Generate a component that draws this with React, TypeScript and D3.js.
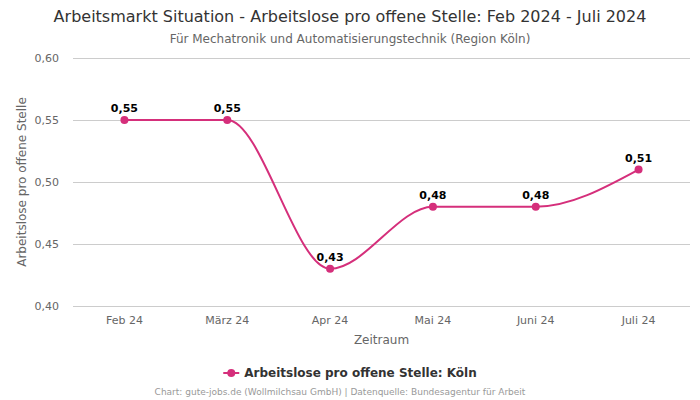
import * as d3 from "d3";
import { useEffect, useRef } from "react";

const categories = ["Feb 24", "März 24", "Apr 24", "Mai 24", "Juni 24", "Juli 24"];
const values = [0.55, 0.55, 0.43, 0.48, 0.48, 0.51];
const yTicks = [0.4, 0.45, 0.5, 0.55, 0.6];

const seriesName = "Arbeitslose pro offene Stelle: Köln";
const color = "#d52f7b";
const font = "'DejaVu Sans', sans-serif";

const fmt = (v: number) => v.toFixed(2).replace(".", ",");

const App = () => {
  const ref = useRef<SVGSVGElement>(null);

  useEffect(() => {
    const svg = d3.select(ref.current);
    svg.selectAll("*").remove();
    const width = 700;
    const height = 400;
    const margin = { top: 58, right: 10, bottom: 94, left: 73 };

    svg.attr("width", width).attr("height", height).style("font-family", font);
    svg.append("rect").attr("width", width).attr("height", height).attr("fill", "#fff");

    const x = d3
      .scalePoint()
      .domain(categories)
      .range([margin.left, width - margin.right])
      .padding(0.5);

    const y = d3
      .scaleLinear()
      .domain([0.4, 0.6])
      .range([height - margin.bottom, margin.top]);

    // Titles
    svg
      .append("text")
      .attr("x", width / 2)
      .attr("y", 22)
      .attr("text-anchor", "middle")
      .attr("fill", "#333")
      .style("font-size", "16px")
      .text("Arbeitsmarkt Situation - Arbeitslose pro offene Stelle: Feb 2024 - Juli 2024");
    svg
      .append("text")
      .attr("x", width / 2)
      .attr("y", 43)
      .attr("text-anchor", "middle")
      .attr("fill", "#666")
      .style("font-size", "12px")
      .text("Für Mechatronik und Automatisierungstechnik (Region Köln)");

    // Grid + y labels
    const grid = svg.append("g");
    yTicks.forEach((t) => {
      grid
        .append("line")
        .attr("x1", margin.left)
        .attr("x2", width - margin.right)
        .attr("y1", Math.round(y(t)) + 0.5)
        .attr("y2", Math.round(y(t)) + 0.5)
        .attr("stroke", "#cccccc");
      grid
        .append("text")
        .attr("x", 59)
        .attr("y", y(t) + 4)
        .attr("text-anchor", "end")
        .attr("fill", "#666")
        .style("font-size", "11px")
        .text(fmt(t));
    });

    // x labels
    categories.forEach((c) => {
      svg
        .append("text")
        .attr("x", x(c)!)
        .attr("y", 324)
        .attr("text-anchor", "middle")
        .attr("fill", "#666")
        .style("font-size", "11px")
        .text(c);
    });

    // axis titles
    svg
      .append("text")
      .attr("x", (margin.left + width - margin.right) / 2)
      .attr("y", 344)
      .attr("text-anchor", "middle")
      .attr("fill", "#666")
      .style("font-size", "12px")
      .text("Zeitraum");
    svg
      .append("text")
      .attr("transform", `translate(26,${(margin.top + height - margin.bottom) / 2}) rotate(-90)`)
      .attr("text-anchor", "middle")
      .attr("fill", "#666")
      .style("font-size", "12px")
      .text("Arbeitslose pro offene Stelle");

    // line
    const line = d3
      .line<number>()
      .x((_, i) => x(categories[i])!)
      .y((d) => y(d))
      .curve(d3.curveMonotoneX);
    svg
      .append("path")
      .datum(values)
      .attr("d", line)
      .attr("fill", "none")
      .attr("stroke", color)
      .attr("stroke-width", 2);

    svg
      .append("g")
      .selectAll("circle")
      .data(values)
      .join("circle")
      .attr("cx", (_, i) => x(categories[i])!)
      .attr("cy", (d) => y(d))
      .attr("r", 4)
      .attr("fill", color);

    svg
      .append("g")
      .selectAll("text")
      .data(values)
      .join("text")
      .attr("x", (_, i) => x(categories[i])!)
      .attr("y", (d) => y(d) - 8)
      .attr("text-anchor", "middle")
      .attr("fill", "#000")
      .attr("stroke", "#fff")
      .attr("stroke-width", 2)
      .attr("paint-order", "stroke")
      .style("font-size", "11px")
      .style("font-weight", "bold")
      .text((d) => fmt(d));

    // legend
    const lg = svg.append("g");
    const legendText = lg
      .append("text")
      .attr("x", 244)
      .attr("y", 377)
      .attr("fill", "#333")
      .style("font-size", "12px")
      .style("font-weight", "bold")
      .text(seriesName);
    const tw = (legendText.node() as SVGTextElement).getComputedTextLength();
    const lx = width / 2 - (tw + 21) / 2;
    legendText.attr("x", lx + 21);
    lg.append("line")
      .attr("x1", lx)
      .attr("x2", lx + 16)
      .attr("y1", 373)
      .attr("y2", 373)
      .attr("stroke", color)
      .attr("stroke-width", 2);
    lg.append("circle").attr("cx", lx + 8).attr("cy", 373).attr("r", 4).attr("fill", color);

    // credits
    svg
      .append("text")
      .attr("x", 340)
      .attr("y", 395)
      .attr("text-anchor", "middle")
      .attr("fill", "#999")
      .style("font-size", "9px")
      .text("Chart: gute-jobs.de (Wollmilchsau GmbH) | Datenquelle: Bundesagentur für Arbeit");
  }, []);

  return <svg ref={ref} style={{ display: "block", position: "absolute", left: 0, top: 0 }} />;
};

export default App;
